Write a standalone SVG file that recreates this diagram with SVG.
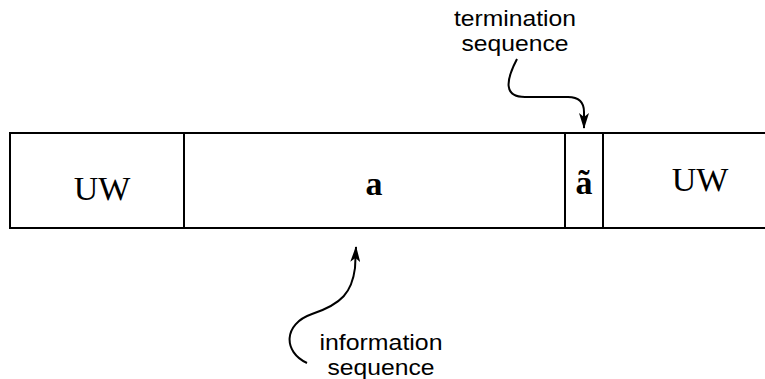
<svg xmlns="http://www.w3.org/2000/svg" width="765" height="379" viewBox="0 0 765 379">
<style>
.ln{stroke:#000;stroke-width:2;fill:none}
.ser{font-family:"Liberation Serif","Times New Roman",serif;font-size:34px;text-anchor:middle;fill:#000}
.bold{font-weight:bold}
.lab{font-family:"Liberation Sans",Arial,sans-serif;font-size:22px;text-anchor:middle;fill:#000}
.arr{stroke:#000;stroke-width:2;fill:none}
</style>
<defs>
<marker id="ah" viewBox="0 0 16 10" refX="15" refY="5" markerWidth="16" markerHeight="10" markerUnits="userSpaceOnUse" orient="auto">
<path d="M0,0 L16,5 L0,10 L4,5 z" fill="#000"/>
</marker>
</defs>
<rect width="765" height="379" fill="#fff"/>
<g id="frame">
<path class="ln" d="M765 133 L10 133 L10 228 L765 228"/>
</g>
<g id="uw1">
<line class="ln" x1="184" y1="133" x2="184" y2="228"/>
<text class="ser" x="102" y="200">UW</text>
</g>
<g id="a">
<line class="ln" x1="565" y1="133" x2="565" y2="228"/>
<text class="ser bold" x="374" y="195">a</text>
</g>
<g id="atilde">
<line class="ln" x1="603" y1="133" x2="603" y2="228"/>
<text class="ser bold" x="584" y="194">ã</text>
</g>
<g id="uw2">
<text class="ser" x="700" y="191">UW</text>
</g>
<g id="termination">
<text class="lab" x="515" y="26" textLength="122" lengthAdjust="spacingAndGlyphs">termination</text>
<text class="lab" x="515" y="51" textLength="107" lengthAdjust="spacingAndGlyphs">sequence</text>
</g>
<g id="information">
<text class="lab" x="381" y="350" textLength="123" lengthAdjust="spacingAndGlyphs">information</text>
<text class="lab" x="381" y="375" textLength="107" lengthAdjust="spacingAndGlyphs">sequence</text>
</g>
<g id="connectors">
<path class="arr" marker-end="url(#ah)" d="M517 59 C506 80, 503 97, 525 97 L568 97 C580 97, 584 103, 584 112 L584 128"/>
<path class="arr" marker-end="url(#ah)" d="M307 363 C283 352, 283 324, 312 314 C342 304, 352 292, 355 268 L356 247"/>
</g>
</svg>
